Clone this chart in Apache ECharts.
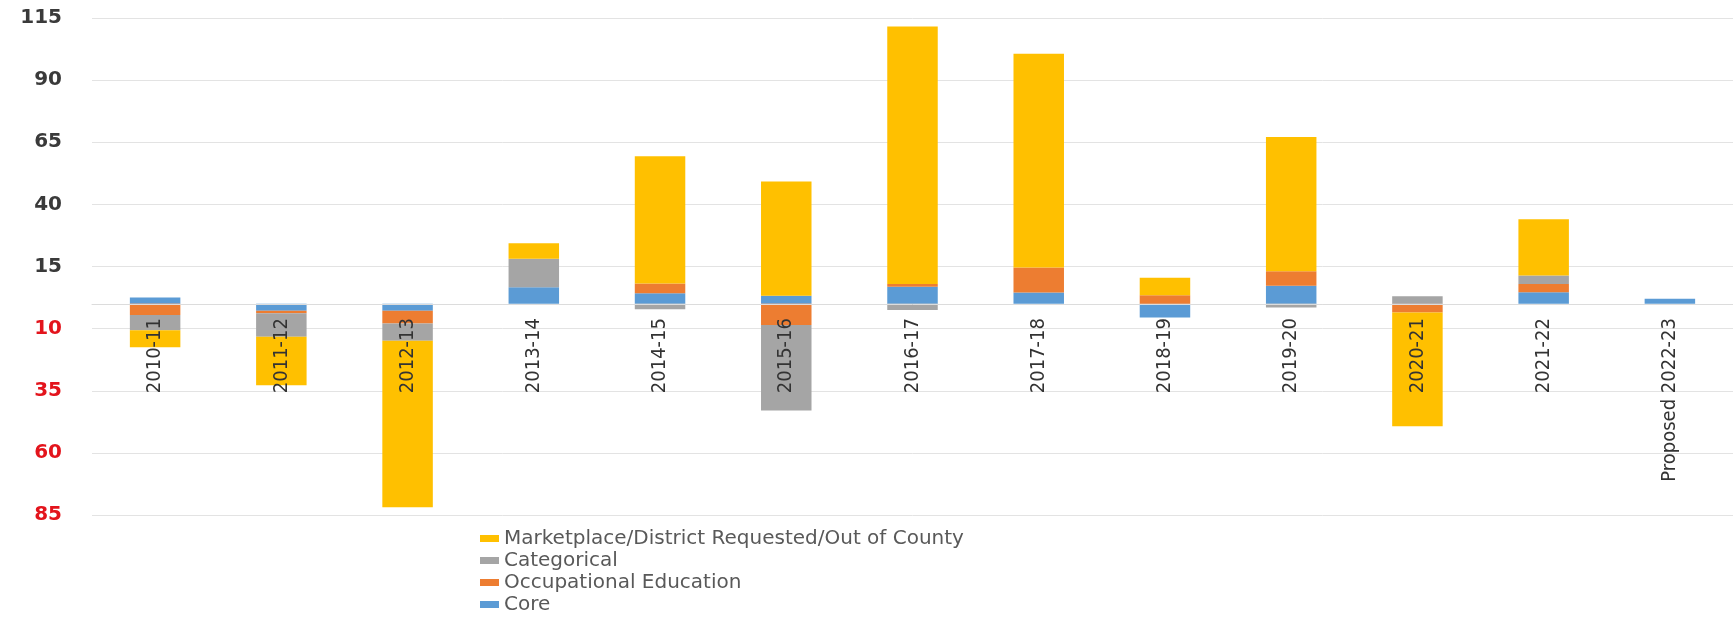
<!DOCTYPE html>
<html>
<head>
<meta charset="utf-8">
<script src="https://cdn.jsdelivr.net/npm/echarts@6/dist/echarts.min.js"></script>
<style>
  html, body { margin: 0; padding: 0; background: #fff; }
  #chart { width: 1733px; height: 617px; }
</style>
</head>
<body>
<div id="chart"></div>
<script>
var years = ['2010-11', '2011-12', '2012-13', '2013-14', '2014-15', '2015-16', '2016-17',
  '2017-18', '2018-19', '2019-20', '2020-21', '2021-22', 'Proposed 2022-23'];

// stacked from zero outwards
var core = [2.5, -2.8, -2.8, 6.6, 4.2, 3.2, 6.9, 4.5, -5.5, 7.3, 0, 4.6, 2];
var occupational = [-4.5, -1, -5.1, 0, 4, -8.5, 1.1, 10.1, 3.4, 5.8, -3.5, 3.4, 0];
var categorical = [-6.2, -9.5, -7, 11.5, -2.2, -34.4, -2.5, 0, 0, -1.5, 3, 3.4, 0];
var marketplace = [-6.8, -19.5, -67, 6.3, 51.2, 46, 103.6, 86, 7.1, 54, -45.8, 22.6, 0];

var names = {
  core: 'Core',
  occ: 'Occupational Education',
  cat: 'Categorical',
  mkt: 'Marketplace/District Requested/Out of County'
};

var addSerie = function(series, name, values, color) {
  series.push({
    name: name,
    type: 'bar',
    stack: 'total',
    barWidth: '40%',
    data: values,
    itemStyle: { color: color }
  });
};

var series = [];
addSerie(series, names.core, core, '#5B9BD5');
addSerie(series, names.occ, occupational, '#ED7D31');
addSerie(series, names.cat, categorical, '#A5A5A5');
addSerie(series, names.mkt, marketplace, '#FFC000');

var option = {
  animation: false,
  grid: { left: 92, right: 0, top: 18, bottom: 102 },
  legend: {
    orient: 'vertical',
    left: 480,
    top: 528,
    padding: 0,
    itemWidth: 19,
    itemHeight: 7,
    itemGap: 1,
    icon: 'rect',
    data: [names.mkt, names.cat, names.occ, names.core],
    textStyle: {
      fontFamily: 'DejaVu Sans',
      fontSize: 20,
      lineHeight: 21,
      color: '#595959'
    }
  },
  xAxis: {
    type: 'category',
    data: years,
    z: 5,
    // sits on the zero line: bottom edge is -85, zero is 85/200 of the grid height above it
    offset: -211,
    axisLine: { show: true, onZero: false, lineStyle: { color: '#dcdcdc' } },
    axisTick: { show: false },
    axisLabel: {
      interval: 0,
      rotate: 90,
      margin: 14,
      fontFamily: 'Liberation Sans Narrow, DejaVu Sans Condensed, sans-serif',
      fontSize: 20,
      color: '#333333'
    }
  },
  yAxis: {
    type: 'value',
    min: -85,
    max: 115,
    interval: 25,
    axisLine: { show: false },
    axisTick: { show: false },
    splitLine: { lineStyle: { color: '#e3e3e3' } },
    axisLabel: {
      margin: 30,
      fontFamily: 'DejaVu Sans',
      fontWeight: 'bold',
      fontSize: 20,
      formatter: function(v) { return String(Math.abs(v)); },
      color: function(v) { return v < 0 ? '#e3141c' : '#3a3a3a'; }
    }
  },
  series: series
};

var myChart = echarts.init(document.getElementById('chart'));
myChart.setOption(option);
</script>
</body>
</html>
